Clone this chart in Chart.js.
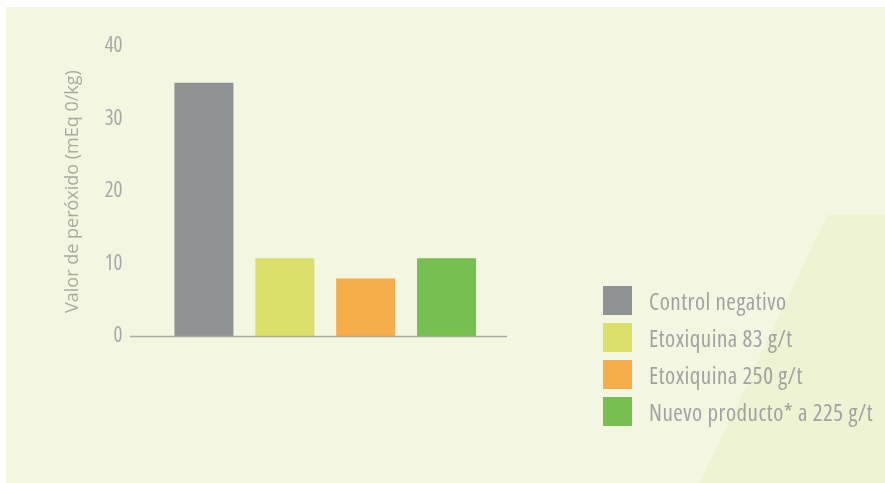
<!DOCTYPE html>
<html>
<head>
<meta charset="utf-8">
<script src="https://cdn.jsdelivr.net/npm/chart.js@4"></script>
<style>
    html, body { margin: 0; padding: 0; background: #ffffff; }
    #wrap {
        position: relative;
        width: 885px;
        height: 483px;
        overflow: hidden;
        background: #ffffff;
    }
    #panel {
        position: absolute;
        left: 6px; top: 7px; right: 0; bottom: 0;
        background: #f3f7e2;
    }
    #shape {
        position: absolute;
        left: 0; top: 0; width: 885px; height: 483px;
        background: #edf3d3;
        clip-path: polygon(827px 215px, 885px 215px, 885px 483px, 700px 483px);
    }
    #chart { position: absolute; left: 0; top: 0; }
    #legend {
        position: absolute;
        left: 603px; top: 282px;
        font-family: "Open Sans", sans-serif;
        font-stretch: condensed;
        font-size: 23px;
        letter-spacing: 0.5px;
        color: #a2a2a0;
    }
    .item { display: flex; align-items: center; height: 37px; white-space: nowrap; }
    .swatch { width: 29px; height: 29px; margin-right: 17px; flex: none; }
</style>
</head>
<body>
<div id="wrap">
    <div id="panel"></div>
    <div id="shape"></div>
    <canvas id="chart" width="885" height="483"></canvas>
    <div id="legend"></div>
</div>
<script>
var categories = ['Control negativo', 'Etoxiquina 83 g/t', 'Etoxiquina 250 g/t', 'Nuevo producto* a 225 g/t'];
var peroxideValues = [35, 10.8, 8, 10.8];
var barColors = ['#909393', '#dbe06b', '#f6ae4c', '#77bf51'];
var yTicks = [0, 10, 20, 30, 40];
var yTitle = 'Valor de peróxido (mEq 0/kg)';

var axisFont = '"Open Sans", sans-serif';

// Base line under the bars, longer than the category area
var baseLine = {
    id: 'baseLine',
    afterDatasetsDraw: function (chart) {
        var y = chart.scales.y.getPixelForValue(0);
        var ctx = chart.ctx;
        ctx.save();
        ctx.strokeStyle = '#a8aaa2';
        ctx.lineWidth = 1.5;
        ctx.beginPath();
        ctx.moveTo(130, y);
        ctx.lineTo(507, y);
        ctx.stroke();
        ctx.restore();
    }
};

var ctx = document.getElementById('chart').getContext('2d');
new Chart(ctx, {
    type: 'bar',
    data: {
        labels: categories,
        datasets: [{
            label: yTitle,
            data: peroxideValues,
            backgroundColor: barColors,
            borderWidth: 0,
            barPercentage: 0.73,
            categoryPercentage: 1
        }]
    },
    options: {
        responsive: false,
        animation: false,
        layout: {
            padding: {left: 62, right: 398, top: 46.5, bottom: 146.5}
        },
        plugins: {
            legend: {display: false},
            tooltip: {enabled: false}
        },
        scales: {
            x: {display: false},
            y: {
                min: 0,
                max: 40,
                afterBuildTicks: function (scale) {
                    scale.ticks = yTicks.map(function (v) { return {value: v}; });
                },
                afterFit: function (scale) {
                    scale.width = 101.5;
                },
                // invisible tick marks keep the labels away from the bars
                grid: {
                    display: true,
                    drawOnChartArea: false,
                    drawTicks: true,
                    tickLength: 41,
                    tickColor: 'rgba(0,0,0,0)'
                },
                border: {display: false},
                ticks: {
                    padding: 0,
                    color: '#a8a8a6',
                    font: {family: axisFont, size: 21, weight: '400 condensed'}
                },
                title: {
                    display: true,
                    text: yTitle,
                    color: '#a9ab9f',
                    padding: 0,
                    font: {family: axisFont, size: 18}
                }
            }
        }
    },
    plugins: [baseLine]
});

// Legend built from the same arrays
var legend = document.getElementById('legend');
categories.forEach(function (name, i) {
    var row = document.createElement('div');
    row.className = 'item';
    var sw = document.createElement('div');
    sw.className = 'swatch';
    sw.style.background = barColors[i];
    var label = document.createElement('span');
    label.textContent = name;
    row.appendChild(sw);
    row.appendChild(label);
    legend.appendChild(row);
});
</script>
</body>
</html>
